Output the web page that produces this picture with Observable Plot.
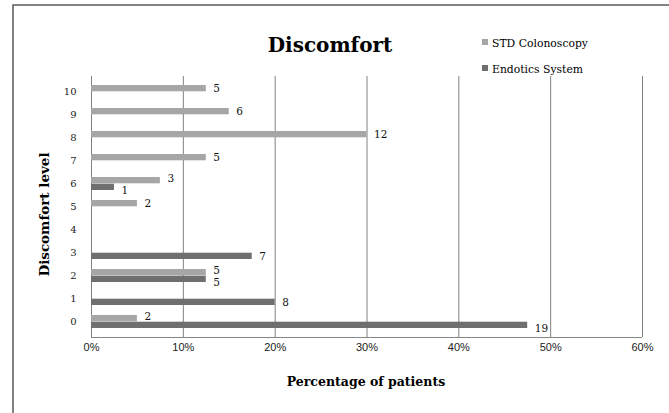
<!DOCTYPE html>
<html>
<head>
<meta charset="utf-8">
<script src="https://cdn.jsdelivr.net/npm/d3@7"></script>
<script src="https://cdn.jsdelivr.net/npm/@observablehq/plot@0.6"></script>
<style>
  html, body { margin: 0; padding: 0; background: #fff; }
  #chart { width: 669px; height: 413px; overflow: hidden; }
</style>
</head>
<body>
<div id="chart"></div>
<script>
// Discomfort levels reported (0 = none, 10 = worst)
const levels = [0, 1, 2, 3, 4, 5, 6, 7, 8, 9, 10];
// Number of patients at each level, per procedure
const stdCounts      = [2, 0, 5, 0, 0, 2, 3, 5, 12, 6, 5];
const endoticsCounts = [19, 8, 5, 7, 0, 0, 1, 0, 0, 0, 0];
const seriesNames = ["STD Colonoscopy", "Endotics System"];
const patientsPerGroup = 40;
const xTicks = [0, 10, 20, 30, 40, 50, 60];

const seriesColors = {"STD Colonoscopy": "#a6a6a6", "Endotics System": "#6f6f6f"};

const W = 669, H = 413;
const margin = {top: 76, right: 27, bottom: 76, left: 91};
const padInner = 0.435;

// One row per level and procedure, skipping empty counts
const rows = [];
levels.forEach((level, i) => {
  const both = stdCounts[i] > 0 && endoticsCounts[i] > 0;
  [[seriesNames[0], stdCounts[i]], [seriesNames[1], endoticsCounts[i]]].forEach(([series, count]) => {
    if (count > 0) rows.push({level, series, count, pct: count / patientsPerGroup * 100, both});
  });
});
const stdRows = rows.filter(d => d.series === seriesNames[0]);
const endRows = rows.filter(d => d.series === seriesNames[1]);

// Each level's band holds two bars: STD on top, Endotics beneath
const step = (H - margin.top - margin.bottom) / levels.length;
const half = step * (1 - padInner) / 2;

const labelFont = {fontFamily: "DejaVu Serif", fontSize: 10.5, fill: "#111", textAnchor: "start", dx: 7};

const plot = Plot.plot({
  width: W,
  height: H,
  marginTop: margin.top,
  marginRight: margin.right,
  marginBottom: margin.bottom,
  marginLeft: margin.left,
  style: {fontFamily: "DejaVu Serif", fontSize: "10px", color: "#222", background: "transparent", overflow: "visible"},
  x: {domain: [0, 60], ticks: xTicks, tickFormat: d => d + "%", tickSize: 0, tickPadding: 6, label: null},
  y: {domain: levels.slice().reverse(), paddingInner: padInner, paddingOuter: padInner / 2,
      tickSize: 0, tickPadding: 15, label: null},
  marks: [
    Plot.ruleX(xTicks, {stroke: "#808080", strokeWidth: 1}),
    Plot.barX(stdRows, {x: "pct", y: "level", fill: seriesColors[seriesNames[0]], insetBottom: half}),
    Plot.barX(endRows, {x: "pct", y: "level", fill: seriesColors[seriesNames[1]], insetTop: half}),
    // Value labels: centred on their bar, nudged apart where a level has both bars
    Plot.text(stdRows.filter(d => !d.both), {x: "pct", y: "level", text: "count", dy: -half / 2, ...labelFont}),
    Plot.text(stdRows.filter(d => d.both), {x: "pct", y: "level", text: "count", dy: -half / 2 - 2, ...labelFont}),
    Plot.text(endRows.filter(d => !d.both), {x: "pct", y: "level", text: "count", dy: half / 2, ...labelFont}),
    Plot.text(endRows.filter(d => d.both), {x: "pct", y: "level", text: "count", dy: half / 2 + 3, ...labelFont})
  ]
});

const svg = d3.select(plot);
svg.selectAll("g[aria-label='x-axis tick label'] text")
  .attr("font-family", "Liberation Sans").attr("font-size", 11);

// Bottom axis line
svg.append("line")
  .attr("x1", margin.left).attr("x2", W - margin.right)
  .attr("y1", H - margin.bottom + 0.5).attr("y2", H - margin.bottom + 0.5)
  .attr("stroke", "#868686");

// Outer chart border
svg.append("rect")
  .attr("x", 13).attr("y", 5).attr("width", W).attr("height", H)
  .attr("fill", "none").attr("stroke", "#5a5a5a").attr("stroke-width", 1.5);

// Title
svg.append("text")
  .attr("x", 330).attr("y", 52).attr("text-anchor", "middle")
  .attr("font-family", "DejaVu Serif").attr("font-weight", "bold").attr("font-size", 20)
  .attr("fill", "#000").text("Discomfort");

// Legend
const legend = svg.append("g")
  .attr("font-family", "DejaVu Serif").attr("font-size", 10.8).attr("fill", "#000")
  .attr("text-anchor", "start");
seriesNames.forEach((name, i) => {
  const y = 39 + i * 26;
  legend.append("rect").attr("x", 482).attr("y", y).attr("width", 6).attr("height", 6)
    .attr("fill", seriesColors[name]);
  legend.append("text").attr("x", 492).attr("y", y + 7.5).text(name);
});

// Axis titles
svg.append("text")
  .attr("transform", `translate(49,${margin.top + (H - margin.top - margin.bottom) / 2 + 8}) rotate(-90)`)
  .attr("text-anchor", "middle")
  .attr("font-family", "DejaVu Serif").attr("font-weight", "bold").attr("font-size", 13.5)
  .attr("fill", "#000").text("Discomfort level");

svg.append("text")
  .attr("x", 366).attr("y", 386).attr("text-anchor", "middle")
  .attr("font-family", "DejaVu Serif").attr("font-weight", "bold").attr("font-size", 12.5)
  .attr("fill", "#000").text("Percentage of patients");

document.getElementById("chart").appendChild(plot);
</script>
</body>
</html>
